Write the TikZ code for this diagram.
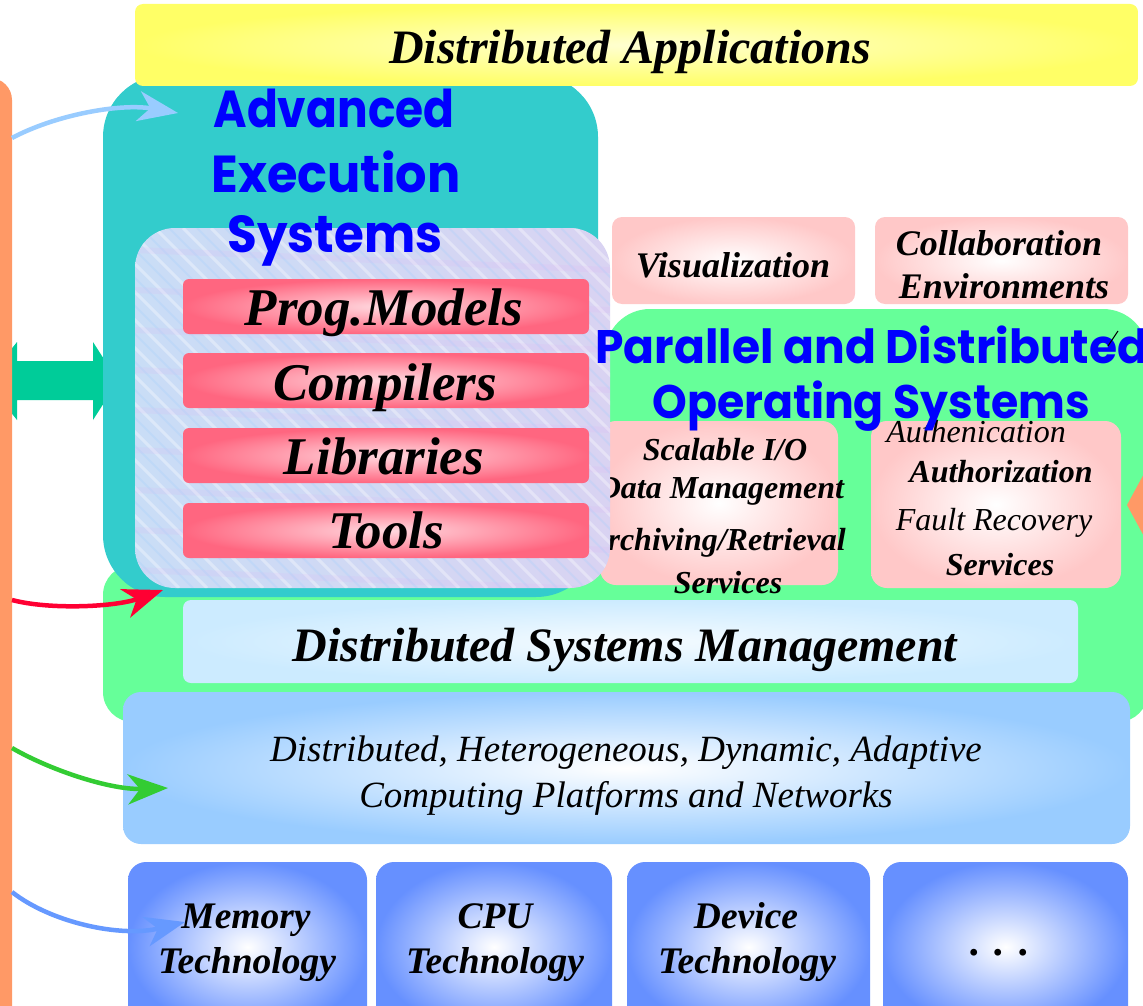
\documentclass[tikz,border=0pt]{standalone}
\usepackage{fontspec}
\setmainfont{Liberation Serif}
\newfontfamily\comic{Poppins}
\usetikzlibrary{arrows.meta}
\newcommand\fsz[1]{\fontsize{#1}{#1}\selectfont}
\definecolor{orangebar}{HTML}{FF9966}
\definecolor{tealc}{HTML}{33CCCC}
\definecolor{greenc}{HTML}{66FF99}
\definecolor{yellowc}{HTML}{FFFF66}
\definecolor{redbar}{HTML}{FF6680}
\definecolor{pinkc}{HTML}{FFC8C8}
\definecolor{bluec}{HTML}{99CCFF}
\definecolor{techc}{HTML}{6690FF}
\definecolor{dsmc}{HTML}{CCEBFF}
\definecolor{arrowgreen}{HTML}{00CC99}
\definecolor{titleblue}{HTML}{0000FF}
\definecolor{texa}{HTML}{C9DDF6}
\definecolor{texb}{HTML}{D9D3F2}
\definecolor{lightarrow}{HTML}{99CCFF}
\definecolor{redarrow}{HTML}{FF0033}
\definecolor{greenarrow}{HTML}{33CC33}
\definecolor{bluearrow}{HTML}{6699FF}
\begin{document}
\begin{tikzpicture}[x=1pt,y=-1pt,
  box/.style={anchor=north west, inner sep=0pt, outer sep=0pt},
  txt/.style={inner sep=0pt, anchor=base, text=black},
  bitxt/.style={txt, font=\bfseries\itshape\fsz{#1}},
  ittxt/.style={txt, font=\itshape\fsz{#1}},
  comictxt/.style={txt, font=\comic\bfseries\fsz{#1}, text=titleblue},
  redbox/.style={box, rounded corners=6pt, minimum width=406pt, minimum height=55pt, inner color=redbar!25, outer color=redbar},
  pinkbox/.style={box, rounded corners=16pt, inner color=white, outer color=pinkc},
  techbox/.style={box, rounded corners=18pt, minimum height=170pt, inner color=white, outer color=techc},
  conn/.style={line width=4.5pt, -{Stealth[length=40pt,width=30pt,inset=12pt]}}
]
\clip (0,0) rectangle (1143,1006);
\fill[white] (0,0) rectangle (1143,1006);

% green double arrow (left head behind the orange bar)
\fill[arrowgreen] (-14,381) -- (17,342) -- (17,361) -- (93,361) -- (93,342) -- (118,381)
  -- (93,420) -- (93,400) -- (17,400) -- (17,420) -- cycle;
% orange bar
\node[box, fill=orangebar, rounded corners=22pt, minimum width=42pt, minimum height=960pt] (obar) at (-30,78) {};

% green operating-systems region
\node[box, fill=greenc, rounded corners=45pt, minimum width=543pt, minimum height=413pt] (osg) at (605,309) {};
\node[box, fill=greenc, rounded corners=30pt, minimum width=1045pt, minimum height=157pt] (osb) at (103,565) {};
% orange arrow at right edge
\fill[orangebar] (1127,505) -- (1165,435) -- (1165,575) -- cycle;

% OS service boxes
\node[pinkbox, minimum width=238pt, minimum height=164pt] (scal) at (600,421) {};
\node[pinkbox, minimum width=250pt, minimum height=167pt] (auth) at (871,421) {};
\node[bitxt=32] (s1) at (725,460) {Scalable I/O};
\node[bitxt=32] (s2) at (721,498) {Data Management};
\node[bitxt=32] (s3) at (716,550) {Archiving/Retrieval};
\node[bitxt=32] (s4) at (728,593) {Services};
\node[ittxt=32] (a1) at (976,442) {Authenication};
\node[bitxt=32] (a2) at (1001,482) {Authorization};
\node[ittxt=32] (a3) at (994,530) {Fault Recovery};
\node[bitxt=32] (a4) at (1000,575) {Services};

% teal execution system box
\node[box, fill=tealc, rounded corners=62pt, minimum width=495pt, minimum height=522pt] (aes) at (103,75) {};

% yellow applications box
\node[box, rounded corners=8pt, minimum width=1003pt, minimum height=82pt, inner color=white!70!yellowc, outer color=yellowc] (app) at (135,4) {};
\node[bitxt=48] (apptxt) at (630,64) {Distributed Applications};

% textured inner box
\node[box, rounded corners=40pt, minimum width=475pt, minimum height=360pt, left color=texa, right color=texb] (tex) at (135,228) {};
\begin{scope}
  \clip[rounded corners=40pt] (135,228) rectangle (610,588);
  \foreach \i in {-400,-372,...,500} {
    \draw[white, opacity=0.35, line width=3pt] (135+\i,228) -- (135+\i+360,588);
  }
  \foreach \i in {-386,-358,...,500} {
    \draw[bluec, opacity=0.22, line width=2pt] (135+\i,228) -- (135+\i+360,588);
  }
  \foreach \j in {250,290,...,580} {
    \draw[texb!80!magenta, opacity=0.12, line width=6pt] (135,\j) -- (610,\j+20);
  }
\end{scope}

% red bars
\node[redbox] (pm) at (183,279) {};
\node[redbox] (cp) at (183,353) {};
\node[redbox] (lb) at (183,428) {};
\node[redbox] (tl) at (183,503) {};
\node[bitxt=53] (pmt) at (384,325) {Prog.Models};
\node[bitxt=53] (cpt) at (385,400) {Compilers};
\node[bitxt=53] (lbt) at (384,474) {Libraries};
\node[bitxt=53] (tlt) at (386,548) {Tools};

% titles
\node[comictxt=52] (ae1) at (334,128) {\scalebox{0.875}[1]{Advanced}};
\node[comictxt=52] (ae2) at (336,192) {\scalebox{0.95}[1]{Execution}};
\node[comictxt=52] (ae3) at (335,252) {\scalebox{0.93}[1]{Systems}};
\node[comictxt=47] (os1) at (872,363) {\scalebox{0.97}[1]{Parallel and Distributed}};
\node[comictxt=47] (os2) at (871,418) {\scalebox{0.94}[1]{Operating Systems}};
\draw[line width=1pt] (1108,346) -- (1118,331);

% visualization and collaboration
\node[pinkbox, rounded corners=10pt, minimum width=243pt, minimum height=87pt] (vis) at (612,217) {};
\node[pinkbox, rounded corners=10pt, minimum width=253pt, minimum height=87pt] (col) at (875,217) {};
\node[bitxt=36] (vist) at (733,277) {Visualization};
\node[bitxt=36] (col1) at (999,255) {Collaboration};
\node[bitxt=36] (col2) at (1004,298) {Environments};

% distributed systems management
\node[box, rounded corners=8pt, minimum width=895pt, minimum height=83pt, inner color=white!80!dsmc, outer color=dsmc] (dsm) at (183,600) {};
\node[bitxt=48] (dsmt) at (625,661) {Distributed Systems Management};

% computing platforms
\node[box, rounded corners=18pt, minimum width=1007pt, minimum height=152pt, inner color=white, outer color=bluec] (cpn) at (123,692) {};
\node[ittxt=37] (cpn1) at (626,761) {Distributed, Heterogeneous, Dynamic, Adaptive};
\node[ittxt=37] (cpn2) at (626,807) {Computing Platforms and Networks};

% technology boxes
\node[techbox, minimum width=239pt] (mem) at (128,862) {};
\node[techbox, minimum width=236pt] (cpu) at (376,862) {};
\node[techbox, minimum width=243pt] (dev) at (627,862) {};
\node[techbox, minimum width=245pt] (dots) at (883,862) {};
\node[bitxt=37.5] (mem1) at (246,928) {Memory};
\node[bitxt=37.5] (mem2) at (247,973) {Technology};
\node[bitxt=37.5] (cpu1) at (495,928) {CPU};
\node[bitxt=37.5] (cpu2) at (495,973) {Technology};
\node[bitxt=37.5] (dev1) at (746,928) {Device};
\node[bitxt=37.5] (dev2) at (747,973) {Technology};
\node[bitxt=42] (dotst) at (1000,955) {. . .};

% connectors from the orange bar
\coordinate (o1) at (12,138);
\coordinate (o2) at (12,600);
\coordinate (o3) at (12,748);
\coordinate (o4) at (12,892);
\coordinate (e1) at (178,113);
\coordinate (e2) at (163,590);
\coordinate (e3) at (168,788);
\coordinate (e4) at (185,922);
\draw[conn, lightarrow] (o1) .. controls (55,115) and (120,103) .. (e1);
\draw[conn, redarrow] (o2) .. controls (50,610) and (115,607) .. (e2);
\draw[conn, greenarrow] (o3) .. controls (50,770) and (110,790) .. (e3);
\draw[conn, bluearrow] (o4) .. controls (50,922) and (120,938) .. (e4);
\end{tikzpicture}
\end{document}
